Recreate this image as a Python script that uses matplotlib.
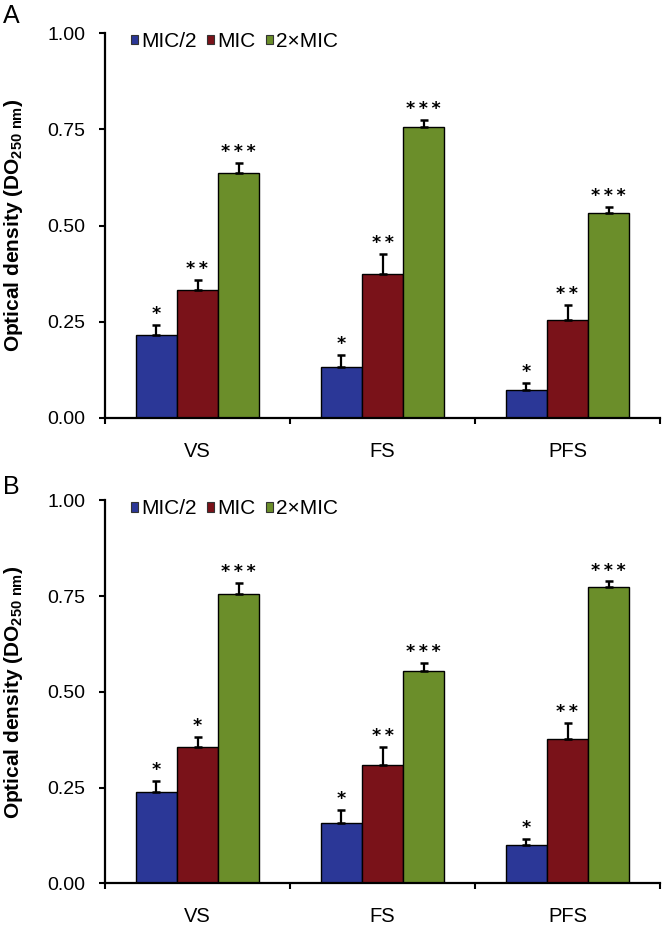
import numpy as np
import matplotlib
matplotlib.use('Agg')
import matplotlib.pyplot as plt
from matplotlib.patches import Patch

plt.rcParams['font.family'] = ['Liberation Sans', 'DejaVu Sans']
plt.rcParams['mathtext.fontset'] = 'custom'
plt.rcParams['mathtext.rm'] = 'Liberation Sans'
plt.rcParams['mathtext.bf'] = 'Liberation Sans:bold'

groups = ['VS', 'FS', 'PFS']
series = ['MIC/2', 'MIC', '2\u00d7MIC']
colors = ['#2b3797', '#7a1219', '#6b8e2a']

# panel A
a_vals = [[0.215, 0.132, 0.072],
          [0.332, 0.373, 0.254],
          [0.637, 0.755, 0.533]]
a_err = [[0.027, 0.032, 0.018],
         [0.026, 0.052, 0.040],
         [0.025, 0.019, 0.016]]
a_sig = [['*', '*', '*'],
         ['**', '**', '**'],
         ['***', '***', '***']]

# panel B
b_vals = [[0.239, 0.158, 0.099],
          [0.357, 0.309, 0.377],
          [0.755, 0.555, 0.774]]
b_err = [[0.028, 0.033, 0.017],
         [0.024, 0.048, 0.042],
         [0.028, 0.021, 0.014]]
b_sig = [['*', '*', '*'],
         ['*', '**', '**'],
         ['***', '***', '***']]

W, H = 669, 933
fig = plt.figure(figsize=(W / 100, H / 100), dpi=100)


def panel(rect, vals, err, sig, letter, letter_y):
    ax = fig.add_axes(rect)
    x = np.arange(len(groups))
    bw = 0.222
    for i in range(3):
        xs = x + (i - 1) * bw
        ax.bar(xs, vals[i], bw, color=colors[i], edgecolor='black',
               linewidth=1.0, zorder=2)
        lower = np.zeros(len(groups))
        ax.errorbar(xs, vals[i], yerr=[lower, err[i]], fmt='none',
                    ecolor='black', elinewidth=1.6, capsize=3.0,
                    capthick=1.8, zorder=3)
        for j in range(len(groups)):
            # spread the stars a little, like the original
            ax.text(xs[j], vals[i][j] + err[i][j] + 0.005,
                    '\u2009'.join(sig[i][j]),
                    ha='center', va='bottom', fontsize=12.5,
                    fontweight='bold', family='DejaVu Sans')
    ax.set_xlim(-0.5, 2.5)
    ax.set_ylim(0, 1.0)
    ax.set_yticks([0, 0.25, 0.5, 0.75, 1.0])
    ax.set_yticklabels(['0.00', '0.25', '0.50', '0.75', '1.00'])
    ax.set_xticks([-0.5, 0.5, 1.5, 2.5])
    ax.set_xticklabels([])
    ax.set_xticks(x, minor=True)
    ax.set_xticklabels(groups, minor=True)
    ax.tick_params(axis='x', which='minor', length=0, pad=17, labelsize=14.5)
    ax.tick_params(axis='x', which='major', length=4, width=1.5, direction='out')
    ax.tick_params(axis='y', length=4, width=1.5, direction='out', pad=10,
                   labelsize=14)
    for s in ['top', 'right']:
        ax.spines[s].set_visible(False)
    for s in ['left', 'bottom']:
        ax.spines[s].set_linewidth(1.6)
    ax.set_ylabel(r'Optical density (DO$_{\mathbf{250\ nm}}$)',
                  fontsize=15, fontweight='bold')
    ax.yaxis.set_label_coords(-0.144, 0.5)
    handles = [Patch(facecolor=c, edgecolor='#333333', linewidth=0.8)
               for c in colors]
    ax.legend(handles, series, ncol=3, loc='center left',
              bbox_to_anchor=(0.047, 0.978), frameon=False, fontsize=15,
              handlelength=0.33, handleheight=0.33, handletextpad=0.15,
              columnspacing=0.5, borderaxespad=0, borderpad=0)
    fig.text(3 / W, 1 - letter_y / H, letter, fontsize=18, ha='left',
             va='center')
    return ax


panel([105 / W, 1 - 418 / H, 555 / W, 385 / H], a_vals, a_err, a_sig, 'A', 16)
panel([105 / W, 1 - 883.3 / H, 555 / W, 383 / H], b_vals, b_err, b_sig, 'B', 487)

fig.savefig('out.png', dpi=100)
